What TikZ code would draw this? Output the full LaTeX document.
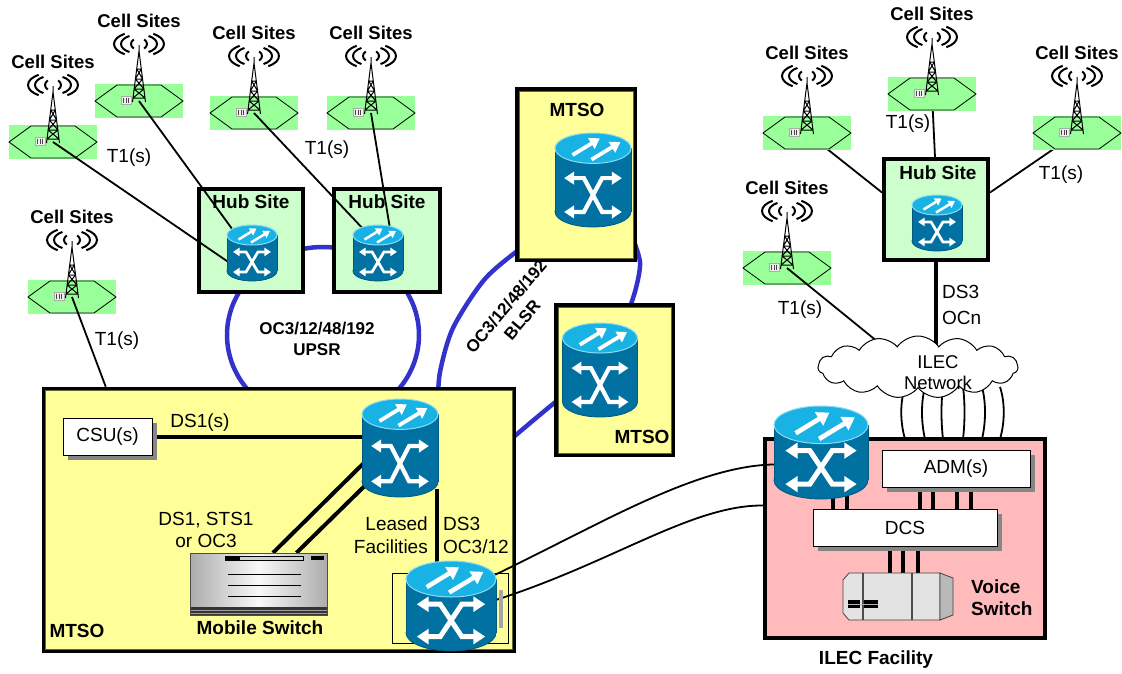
\documentclass[tikz,border=0pt]{standalone}
\usepackage{fontspec}
\setmainfont{Liberation Sans}
\usetikzlibrary{arrows.meta,calc,shapes.symbols,shadows}

\pgfdeclarelayer{ringlayer}
\pgfdeclarelayer{boxlayer}
\pgfdeclarelayer{wirelayer}
\pgfdeclarelayer{sitelayer}
\pgfdeclarelayer{toplinks}
\pgfsetlayers{ringlayer,boxlayer,wirelayer,sitelayer,toplinks,main}

\definecolor{ringblue}{HTML}{3333CC}
\definecolor{mtsoyellow}{HTML}{FFFF99}
\definecolor{mtsoedge}{HTML}{666633}
\definecolor{hubgreen}{HTML}{CCFFCC}
\definecolor{cellgreen}{HTML}{99FF99}
\definecolor{ilecpink}{HTML}{FFBBBB}
\definecolor{swbody}{HTML}{0071A0}
\definecolor{swedge}{HTML}{005A80}
\definecolor{swtop}{HTML}{18B2E4}
\definecolor{swtopedge}{HTML}{8ADCF5}

% ATM switch icon: name, centre x, top y, width, height
\newcommand\atmswitch[5]{%
  \pgfmathsetmacro\swW{#4}%
  \pgfmathsetmacro\swH{#5}%
  \pgfmathsetmacro\swE{0.2*#4}%
  \pgfmathsetmacro\swLW{0.055*#4}%
  \pgfmathsetmacro\swTW{0.05*#4}%
  \begin{scope}[shift={(#2,#3)}]
    \filldraw[fill=swbody,draw=swedge,line width=0.8pt] (0,{\swH-\swE}) ellipse[x radius={\swW/2},y radius=\swE];
    \fill[swbody] ({-\swW/2},\swE) rectangle ({\swW/2},{\swH-\swE});
    \draw[swedge,line width=0.8pt] ({-\swW/2},\swE) -- ({-\swW/2},{\swH-\swE}) ({\swW/2},\swE) -- ({\swW/2},{\swH-\swE});
    \filldraw[fill=swtop,draw=swtopedge,line width=1pt] (0,\swE) ellipse[x radius={\swW/2},y radius=\swE];
    \draw[white,line width=\swTW pt,-{Triangle[length=0pt 2.6,width=0pt 3.2]}]
      ({-0.27*\swW},{\swE+0.09*\swW}) -- ({0.09*\swW},{\swE-0.13*\swW});
    \draw[white,line width=\swTW pt,-{Triangle[length=0pt 2.6,width=0pt 3.2]}]
      ({-0.02*\swW},{\swE+0.15*\swW}) -- ({0.36*\swW},{\swE-0.08*\swW});
    \draw[white,line width=\swLW pt,{Triangle[length=0pt 2.4,width=0pt 3]}-{Triangle[length=0pt 2.4,width=0pt 3]}]
      ({-0.38*\swW},{0.48*\swH}) -- ({-0.12*\swW},{0.48*\swH}) -- ({0.12*\swW},{0.84*\swH}) -- ({0.38*\swW},{0.84*\swH});
    \draw[white,line width=\swLW pt,{Triangle[length=0pt 2.4,width=0pt 3]}-{Triangle[length=0pt 2.4,width=0pt 3]}]
      ({0.38*\swW},{0.48*\swH}) -- ({0.12*\swW},{0.48*\swH}) -- ({-0.12*\swW},{0.84*\swH}) -- ({-0.38*\swW},{0.84*\swH});
  \end{scope}
  \node[inner sep=0pt,minimum width=#4pt,minimum height=#5pt] (#1) at (#2,{#3+#5/2}) {};
}

% cell site: hexagon pad, tower, radio waves and caption around coordinate #1
\newcommand\cellsite[1]{%
  \begin{scope}[shift={(#1)}]
    \fill[cellgreen] (-44,-17) rectangle (44,17);
    \draw[line width=0.8pt] (-44,0) -- (-22,-16) -- (22,-16) -- (44,0) -- (22,16) -- (-22,16) -- cycle;
    \filldraw[fill=gray!12,draw=gray!65,line width=0.6pt] (-18,-5) rectangle (-8,3);
    \draw[gray!55!black,line width=0.5pt] (-15.5,-3.5) -- (-15.5,1.5) (-13,-3.5) -- (-13,1.5) (-10.5,-3.5) -- (-10.5,1.5);
    \draw[line width=1pt] (-6.5,1) -- (0,-50) -- (6.5,1) (0,-50) -- (0,-56)
      (-2.3,-32) -- (2.3,-32) (-3.6,-22) -- (3.6,-22) (-4.9,-12) -- (4.9,-12) (-6,-3) -- (6,-3)
      (-2.3,-32) -- (3.6,-22) -- (-4.9,-12) -- (6,-3)
      (2.3,-32) -- (-3.6,-22) -- (4.9,-12) -- (-6,-3);
    \foreach \rx/\ry/\a in {25/12.5/55,18/9.5/58,8/6/50}{
      \draw[line width=2pt]
        (-\rx,-57) arc[start angle=180,end angle={180-\a},x radius=\rx,y radius=\ry]
        (-\rx,-57) arc[start angle=180,end angle={180+\a},x radius=\rx,y radius=\ry]
        (\rx,-57) arc[start angle=0,end angle=\a,x radius=\rx,y radius=\ry]
        (\rx,-57) arc[start angle=0,end angle=-\a,x radius=\rx,y radius=\ry];
    }
    \node[celllbl] (#1lbl) at (0,-80) {Cell Sites};
  \end{scope}}

\begin{document}
\begin{tikzpicture}[x=1pt,y=-1pt,
  ring/.style={draw=ringblue,line width=4.5pt},
  link/.style={draw=black,line width=1.8pt},
  trunk/.style={draw=black,line width=4pt},
  hubbox/.style={draw=black,line width=4pt,fill=hubgreen,inner sep=0pt},
  mtsobox/.style={draw=black,line width=4.5pt,fill=mtsoyellow,inner sep=0pt},
  ilecbox/.style={draw=black,line width=4pt,fill=ilecpink,inner sep=0pt},
  whitebox/.style={draw=black,line width=0.8pt,fill=white,inner sep=0pt,
    font=\fontsize{19}{22}\selectfont,
    drop shadow={shadow xshift=5pt,shadow yshift=-5pt,fill=gray!95,opacity=1}},
  lbl/.style={inner sep=0pt,font=\fontsize{19}{22}\selectfont},
  blbl/.style={inner sep=0pt,font=\bfseries\fontsize{19}{22}\selectfont},
  celllbl/.style={inner sep=0pt,font=\bfseries\fontsize{18.5}{22}\selectfont},
  ringlbl/.style={inner sep=0pt,align=center,font=\bfseries\fontsize{17}{21}\selectfont}]

\useasboundingbox (0,0) rectangle (1122,673);

% tower feet of the cell sites
\coordinate (cs1) at (53,142);
\coordinate (cs2) at (139,101);
\coordinate (cs3) at (254,113);
\coordinate (cs4) at (371,113);
\coordinate (cs5) at (72,297);
\coordinate (cs6) at (807,133);
\coordinate (cs7) at (932,94);
\coordinate (cs8) at (1077,133);
\coordinate (cs9) at (787,268);

% SONET rings
\begin{pgfonlayer}{ringlayer}
  \draw[ring] (323,335) ellipse[x radius=96,y radius=88];
  \draw[ring] plot[smooth] coordinates {(548,232) (520,249) (484,280) (453,328) (440,372) (438,402)};
  \draw[ring] plot[smooth] coordinates {(632,236) (640,262) (636,288) (627,316)};
  \draw[ring] plot[smooth] coordinates {(572,390) (553,404) (523,429) (503,446)};
\end{pgfonlayer}

% sites
\begin{pgfonlayer}{boxlayer}
  \node[mtsobox,minimum width=470pt,minimum height=262pt] (m1) at (279,520) {};
  \draw[mtsoedge,line width=1pt] ([xshift=4pt,yshift=-4pt]m1.north west) rectangle ([xshift=-4pt,yshift=4pt]m1.south east);
  \node[mtsobox,minimum width=117.5pt,minimum height=170.5pt] (m2) at (576,174.5) {};
  \draw[mtsoedge,line width=1pt] ([xshift=4pt,yshift=-4pt]m2.north west) rectangle ([xshift=-4pt,yshift=4pt]m2.south east);
  \node[mtsobox,minimum width=116.5pt,minimum height=149.5pt] (m3) at (614.5,380) {};
  \draw[mtsoedge,line width=1pt] ([xshift=4pt,yshift=-4pt]m3.north west) rectangle ([xshift=-4pt,yshift=4pt]m3.south east);
  \node[hubbox,minimum width=104pt,minimum height=103pt] (h1) at (251,240.5) {};
  \node[hubbox,minimum width=106pt,minimum height=103pt] (h2) at (387,240.5) {};
  \node[hubbox,minimum width=104pt,minimum height=101pt] (h3) at (936,209.5) {};
  \node[ilecbox,minimum width=280pt,minimum height=199pt] (il) at (905,538.5) {};
\end{pgfonlayer}

% switches and equipment
\node[draw,line width=0.8pt,inner sep=0pt,minimum width=116pt,minimum height=70pt] (rack) at (450,608) {};
\fill[gray!70] (499,590) rectangle (503,628);
\atmswitch{r1}{252}{225}{50}{56}
\atmswitch{r2}{378}{225}{50}{56}
\atmswitch{r3}{937}{195}{50}{56}
\atmswitch{r4}{593}{133}{76}{94}
\atmswitch{r5}{600}{323}{75}{94}
\atmswitch{r6}{400}{399}{76}{98}
\atmswitch{r7}{451}{561}{90}{90}
\atmswitch{r8}{821}{406}{94}{93}

% mobile switch
\begin{scope}[shift={(190,553)}]
  \shade[left color=gray!65,right color=gray!65,middle color=gray!5] (0,0) rectangle (137,54);
  \fill[gray!40!black] (0,54) rectangle (137,62);
  \draw[gray!75,line width=0.6pt] (0,57) -- (137,57) (0,60) -- (137,60);
  \draw[gray!60!black,line width=0.6pt] (0,0) rectangle (137,62);
  \filldraw[fill=gray!35,draw=black,line width=0.6pt] (35,3) rectangle (113,7);
  \fill[black] (36,3.5) rectangle (50,6.5);
  \fill[black] (121,3) rectangle (134,7);
  \draw[black,line width=0.8pt] (38,21) -- (111,21) (38,32.5) -- (111,32.5) (38,43.5) -- (111,43.5);
\end{scope}
\node[inner sep=0pt,minimum width=137pt,minimum height=62pt] (ms) at (258.5,584) {};

% voice switch
\begin{scope}[shift={(843,573)}]
  \filldraw[fill=gray!22,draw=gray!50!black,line width=0.8pt] (0,7) -- (6,0) -- (97,0) -- (97,47) -- (6,47) -- (0,40) -- cycle;
  \filldraw[fill=gray!55,draw=gray!50!black,line width=0.8pt] (97,0) -- (110,5) -- (110,42) -- (97,47) -- cycle;
  \draw[gray!60!black,line width=1.2pt] (20,0) -- (20,47) (69,0) -- (69,47);
  \fill[black] (5,27) rectangle (17,35);
  \fill[black] (21,27) rectangle (35,35);
  \draw[gray!60,line width=0.6pt] (5,31) -- (35,31);
\end{scope}
\node[inner sep=0pt,minimum width=110pt,minimum height=47pt] (vs) at (898,596.5) {};

\node[whitebox,minimum width=89pt,minimum height=37pt] (csu) at (107.5,436.5) {CSU(s)};
\node[whitebox,minimum width=148pt,minimum height=37pt] (adm) at (956,468.5) {ADM(s)};
\node[whitebox,minimum width=184pt,minimum height=37pt] (dcs) at (905,527.5) {DCS};

\node[cloud,cloud puffs=15,cloud puff arc=110,aspect=3.4,draw,fill=white,line width=1pt,
  minimum width=200pt,minimum height=62pt,inner sep=0pt] (cl) at (918,367) {};

% cell sites
\begin{pgfonlayer}{sitelayer}
  \foreach \c in {cs1,cs2,cs3,cs4,cs5,cs6,cs7,cs8,cs9}{\cellsite{\c}}
\end{pgfonlayer}

% links drawn beneath the cell pads and the equipment
\begin{pgfonlayer}{wirelayer}
  \draw[link] (cs6) -- ($(h3.west)+(0,-17)$);
  \draw[link] (cs7) -- ($(h3.north)+(-1,0)$);
  \draw[link] (cs8) -- ($(h3.east)+(0,-17)$);
  \draw[trunk] (h3.south) -- ($(h3.south)+(0,85)$);
  \foreach \d/\b in {0/-5,20/-4,38/-2,58/2,77/4,95/5}{
    \draw[link] ($(il.north)+(\d,-50)$) .. controls ($(il.north)+({\d+\b},-35)$) and ($(il.north)+({\d+\b},-15)$) .. ($(il.north)+(\d,2)$);
  }
  \draw[trunk] (csu.east) -- (csu.east -| r6.center);
  \draw[trunk] ($(ms.north)+(14.5,0)$) -- ($(r6.center)+(-25,4)$);
  \draw[trunk] ($(ms.north)+(38,0)$) -- ($(r6.center)+(-15,18)$);
  \draw[trunk] ($(r6.south)+(37,-8)$) -- ($(r7.north)+(-14,8)$);
  \draw[trunk] ($(r8.south)+(12,-8)$) -- ($(r8.south)+(12,16)$);
  \draw[trunk] ($(r8.south)+(26,-8)$) -- ($(r8.south)+(26,16)$);
  \foreach \d in {-36,-23,1,15}{\draw[trunk] ($(adm.south)+(\d,-3)$) -- ++(0,28);}
  \foreach \d in {-15,-2,13}{\draw[trunk] ($(dcs.south)+(\d,-3)$) -- ++(0,32);}
  \draw[link] ($(r7.east)+(-10,-27)$) .. controls (600,525) and (700,462) .. ($(r8.west)+(8,12)$);
  \draw[link] ($(r7.east)+(-10,-3)$) .. controls (610,565) and (690,505) .. ($(il.west)+(0,-33)$);
\end{pgfonlayer}

% T1 links laid over the cell pads
\begin{pgfonlayer}{toplinks}
  \draw[link] (cs1) -- ($(r1.west)+(3,10)$);
  \draw[link] (cs2) -- ($(r1.north)+(-20,4)$);
  \draw[link] (cs3) -- ($(r2.north)+(-15,4)$);
  \draw[link] (cs4) -- ($(r2.north)+(12,4)$);
  \draw[link] (cs5) -- ($(m1.north west)+(64,0)$);
  \draw[link] (cs9) -- ($(cl.center)+(-40,-25)$);
\end{pgfonlayer}

% captions
\node[blbl] (h1l) at (251,202) {Hub Site};
\node[blbl] (h2l) at (387,202) {Hub Site};
\node[blbl] (h3l) at (938,173) {Hub Site};
\node[blbl] (m1l) at (77,631) {MTSO};
\node[blbl] (m2l) at (577,110) {MTSO};
\node[blbl] (m3l) at (642,437) {MTSO};
\node[blbl] (msl) at (260,628) {Mobile Switch};
\node[blbl,align=left,anchor=west] (vsl) at (971,598) {Voice\\Switch};
\node[blbl] (ill) at (876,660) {ILEC Facility};
\node[lbl,align=center,font=\fontsize{18.5}{21}\selectfont] (cll) at (938,373) {ILEC\\Network};

\node[lbl] (t1a) at (129,158) {T1(s)};
\node[lbl] (t1b) at (327,150) {T1(s)};
\node[lbl] (t1c) at (117,341) {T1(s)};
\node[lbl] (t1d) at (908,124) {T1(s)};
\node[lbl] (t1e) at (1061,175) {T1(s)};
\node[lbl] (t1f) at (800,310) {T1(s)};
\node[lbl,anchor=west] (ds3a) at (942,292) {DS3};
\node[lbl,anchor=west] (ocn) at (942,318) {OCn};
\node[ringlbl] (upsr) at (317,339) {OC3/12/48/192\\UPSR};
\node[ringlbl,rotate=50] (blsr) at (514,313) {OC3/12/48/192\\BLSR};
\node[lbl] (ds1s) at (200,423) {DS1(s)};
\node[lbl,align=center] (ds1sts) at (206,530) {DS1, STS1\\or OC3};
\node[lbl,anchor=east] (leased) at (428,524) {Leased};
\node[lbl,anchor=east] (facil) at (428,547) {Facilities};
\node[lbl,anchor=west] (ds3b) at (443,524) {DS3};
\node[lbl,anchor=west] (oc312) at (443,547) {OC3/12};

\end{tikzpicture}
\end{document}
